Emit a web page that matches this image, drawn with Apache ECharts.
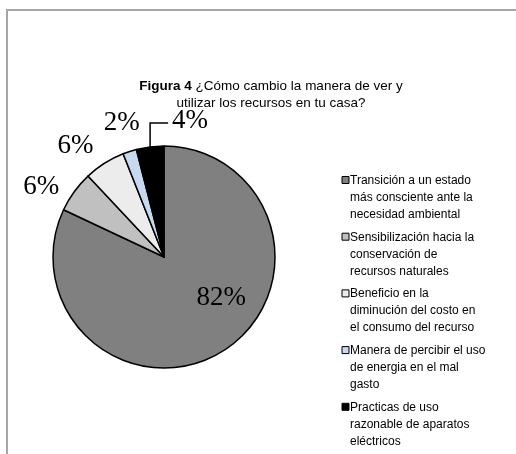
<!DOCTYPE html>
<html>
<head>
<meta charset="utf-8">
<script src="https://cdn.jsdelivr.net/npm/echarts@6/dist/echarts.min.js"></script>
<style>
  html, body { margin: 0; padding: 0; background: #ffffff; }
  #chart { width: 516px; height: 454px; }
</style>
</head>
<body>
<div id="chart"></div>
<script>
// Survey answers: share of households per change in how they see and use resources
const categories = [
  'Transición a un estado más consciente ante la necesidad ambiental',
  'Sensibilización hacia la conservación de recursos naturales',
  'Beneficio en la diminución del costo en el consumo del recurso',
  'Manera de percibir el uso de energia en el mal gasto',
  'Practicas de uso razonable de aparatos eléctricos'
];
// Legend text broken into the lines it is printed on
const legendLines = [
  ['Transición a un estado', 'más consciente ante la', 'necesidad ambiental'],
  ['Sensibilización hacia la', 'conservación de', 'recursos naturales'],
  ['Beneficio en la', 'diminución del costo en', 'el consumo del recurso'],
  ['Manera de percibir el uso', 'de energia en el mal', 'gasto'],
  ['Practicas de uso', 'razonable de aparatos', 'eléctricos']
];
const percentages = [82, 6, 6, 2, 4];
const sliceColors = ['#808080', '#c0c0c0', '#ececec', '#c6d9f1', '#000000'];

const chart = echarts.init(document.getElementById('chart'), null, { renderer: 'canvas' });

const pieCenter = [164, 257];
const pieRadius = 111;
const labelRadius = pieRadius + 32;
// Small hand adjustments so outside labels clear their neighbours
const labelNudge = [[0, 0], [-7, 14], [-12, 10], [2, 2], [0, 0]];

// Mid-angle of every slice (radians, clockwise from 12 o'clock)
const total = percentages.reduce((a, b) => a + b, 0);
const midAngles = [];
let acc = 0;
percentages.forEach((v) => {
  midAngles.push((acc + v / 2) / total * Math.PI * 2);
  acc += v;
});

// Legend drawn as graphic elements so the swatch sits beside the first line
const legendX = 342;
const legendTop = 180;
const lineH = 17;
const itemGap = 5.7;
const legendGraphics = [];
let yCursor = legendTop;
legendLines.forEach((lines, i) => {
  legendGraphics.push({
    type: 'rect',
    shape: { x: legendX, y: yCursor - 3.5, width: 7, height: 7 },
    style: { fill: sliceColors[i], stroke: '#000000', lineWidth: 1 }
  });
  legendGraphics.push({
    type: 'text',
    x: legendX + 8,
    y: yCursor,
    style: {
      text: lines.join('\n'),
      font: '12px "Liberation Sans", Arial, sans-serif',
      lineHeight: lineH,
      fill: '#000000',
      verticalAlign: 'top',
      padding: [-lineH / 2 + 0.5, 0, 0, 0]
    }
  });
  yCursor += lines.length * lineH + itemGap;
});

const option = {
  backgroundColor: '#ffffff',
  animation: false,
  title: {
    text: '{b|Figura 4} ¿Cómo cambio la manera de ver y\nutilizar los recursos en tu casa?',
    left: 266,
    top: 73,
    textAlign: 'center',
    textStyle: {
      fontFamily: '"Liberation Sans", Arial, sans-serif',
      fontSize: 13.5,
      fontWeight: 'normal',
      color: '#000000',
      lineHeight: 17,
      align: 'center',
      rich: {
        b: {
          fontFamily: '"Liberation Sans", Arial, sans-serif',
          fontSize: 13.5,
          fontWeight: 'bold',
          color: '#000000',
          lineHeight: 17
        }
      }
    }
  },
  graphic: [
    {
      type: 'rect',
      shape: { x: 7, y: 10, width: 700, height: 700 },
      style: { fill: 'none', stroke: '#a6a6a6', lineWidth: 2 },
      z: 0
    }
  ].concat(legendGraphics),
  series: [
    {
      type: 'pie',
      center: pieCenter,
      radius: pieRadius,
      startAngle: 90,
      clockwise: true,
      avoidLabelOverlap: false,
      itemStyle: { borderColor: '#000000', borderWidth: 1.5 },
      label: {
        show: true,
        position: 'outside',
        formatter: '{c}%',
        fontFamily: '"Liberation Serif", "Times New Roman", serif',
        fontSize: 27,
        color: '#000000'
      },
      labelLine: { show: false, length: 14, length2: 0 },
      data: categories.map((name, i) => {
        const item = {
          name: name,
          value: percentages[i],
          itemStyle: { color: sliceColors[i] }
        };
        if (i === 0) {
          item.label = { position: 'inside', offset: [26, -8] };
        }
        if (i === 4) {
          item.labelLine = { show: true, lineStyle: { color: '#000000', width: 1.5 } };
        }
        return item;
      }),
      labelLayout: function (params) {
        const i = params.dataIndex;
        if (i === 0) {
          return {};
        }
        const a = midAngles[i];
        const ex = pieCenter[0] + Math.sin(a) * pieRadius;
        const ey = pieCenter[1] - Math.cos(a) * pieRadius;
        // Leader for the small black slice: straight up, then to the right
        if (i === 4) {
          const rise = 24;
          const run = 18;
          return {
            x: ex + run + 4,
            y: ey - rise - 2,
            align: 'left',
            verticalAlign: 'middle',
            labelLinePoints: [[ex, ey], [ex, ey - rise], [ex + run, ey - rise]]
          };
        }
        // Other outside labels: centred on the slice's mid-angle ray
        return {
          x: pieCenter[0] + Math.sin(a) * labelRadius + labelNudge[i][0],
          y: pieCenter[1] - Math.cos(a) * labelRadius + labelNudge[i][1],
          align: 'center',
          verticalAlign: 'middle'
        };
      }
    }
  ]
};

chart.setOption(option);
</script>
</body>
</html>
